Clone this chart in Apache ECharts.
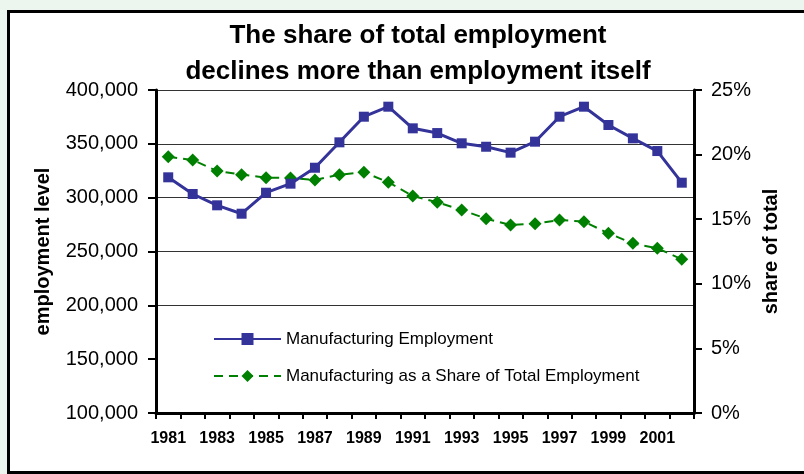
<!DOCTYPE html>
<html>
<head>
<meta charset="utf-8">
<script src="https://cdn.jsdelivr.net/npm/echarts@6/dist/echarts.min.js"></script>
<style>
  html, body { margin: 0; padding: 0; width: 804px; height: 474px; overflow: hidden; background: #ecf6ee; }
  #frame { position: absolute; left: 7px; top: 10px; width: 810px; height: 464px; box-sizing: border-box; border: 3px solid #000; background: #fff; }
  #chart { position: absolute; left: 0; top: 0; width: 804px; height: 474px; }
</style>
</head>
<body>
<div id="frame"></div>
<div id="chart"></div>
<script>
const years = ['1981','1982','1983','1984','1985','1986','1987','1988','1989','1990','1991','1992','1993','1994','1995','1996','1997','1998','1999','2000','2001','2002'];
const employment = [318900, 303400, 292900, 285100, 304600, 313000, 327800, 351400, 375200, 384500, 364400, 360000, 350500, 347300, 341800, 352000, 375200, 384500, 367500, 355100, 343300, 313900];
const sharePct = [19.84, 19.58, 18.73, 18.45, 18.21, 18.19, 18.03, 18.45, 18.63, 17.86, 16.80, 16.31, 15.71, 15.04, 14.55, 14.65, 14.94, 14.81, 13.91, 13.13, 12.75, 11.90];
const titleText = 'The share of total employment\ndeclines more than employment itself';
const seriesNames = ['Manufacturing Employment', 'Manufacturing as a Share of Total Employment'];

const FONT = '"Liberation Sans", Arial, sans-serif';
const chart = echarts.init(document.getElementById('chart'), null, { renderer: 'canvas' });
const fmtThousands = v => String(v).replace(/\B(?=(\d{3})+(?!\d))/g, ',');

chart.setOption({
  backgroundColor: 'transparent',
  animation: false,
  title: {
    text: titleText,
    left: 418,
    textAlign: 'center',
    top: 18,
    padding: 0,
    textStyle: { fontFamily: FONT, fontSize: 26, fontWeight: 'bold', color: '#000', lineHeight: 36 }
  },
  legend: {
    orient: 'vertical',
    left: 158,
    top: 317,
    padding: [12, 56, 12, 55],
    backgroundColor: '#fff',
    itemWidth: 67,
    itemHeight: 15,
    itemGap: 17,
    textStyle: { fontFamily: FONT, fontSize: 17, color: '#000', lineHeight: 20 },
    data: seriesNames
  },
  grid: { left: 156, right: 110, top: 90, bottom: 61 },
  xAxis: {
    type: 'category',
    data: years,
    boundaryGap: true,
    z: 5,
    axisLine: { lineStyle: { color: '#000', width: 3 } },
    axisTick: { show: true, interval: 0, length: 6, lineStyle: { color: '#000', width: 2 } },
    axisLabel: { interval: 1, margin: 18, fontFamily: FONT, fontSize: 16, fontWeight: 'bold', color: '#000' },
    splitLine: { show: false }
  },
  yAxis: [
    {
      type: 'value',
      min: 100000, max: 400000, interval: 50000,
      name: 'employment level',
      nameLocation: 'middle',
      nameRotate: 90,
      nameGap: 103,
      nameTextStyle: { fontFamily: FONT, fontSize: 20, fontWeight: 'bold', color: '#000' },
      axisLine: { show: true, lineStyle: { color: '#000', width: 3 } },
      axisTick: { show: true, length: 8, lineStyle: { color: '#000', width: 2 } },
      axisLabel: { margin: 18, fontFamily: FONT, fontSize: 20, color: '#000', formatter: fmtThousands },
      splitLine: { show: true, lineStyle: { color: '#333', width: 1 } }
    },
    {
      type: 'value',
      min: 0, max: 25, interval: 5,
      z: 5,
      name: 'share of total',
      nameLocation: 'middle',
      nameRotate: 90,
      nameGap: 67,
      nameTextStyle: { fontFamily: FONT, fontSize: 20, fontWeight: 'bold', color: '#000' },
      axisLine: { show: true, lineStyle: { color: '#000', width: 3 } },
      axisTick: { show: true, length: 8, lineStyle: { color: '#000', width: 2 } },
      axisLabel: { margin: 17, fontFamily: FONT, fontSize: 20, color: '#000', formatter: '{value}%' },
      splitLine: { show: false }
    }
  ],
  series: [
    {
      name: seriesNames[0],
      type: 'line',
      yAxisIndex: 0,
      data: employment,
      symbol: 'rect',
      symbolSize: 10,
      color: '#333399',
      lineStyle: { color: '#333399', width: 3 },
      itemStyle: { color: '#333399' },
      z: 3
    },
    {
      name: seriesNames[1],
      type: 'line',
      yAxisIndex: 1,
      data: sharePct,
      symbol: 'diamond',
      symbolSize: 13,
      color: '#008000',
      lineStyle: { color: '#008000', width: 2, type: [9, 6] },
      itemStyle: { color: '#008000' },
      z: 2
    }
  ]
});
</script>
</body>
</html>
